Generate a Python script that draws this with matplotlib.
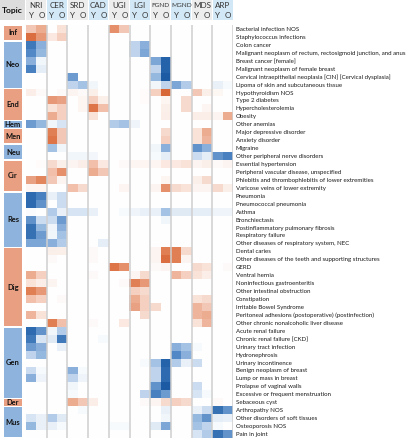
import numpy as np
import matplotlib
matplotlib.use("Agg")
import matplotlib.pyplot as plt
from matplotlib.colors import LinearSegmentedColormap
from matplotlib import font_manager

# pick a narrow font if we have one
installed = {f.name for f in font_manager.fontManager.ttflist}
if 'Liberation Sans Narrow' in installed:
    FONT, SCALE = 'Liberation Sans Narrow', 1.0
else:
    FONT, SCALE = 'Lato', 0.85
plt.rcParams['font.family'] = [FONT, 'DejaVu Sans']

topics = ['NRI', 'CER', 'SRD', 'CAD', 'UGI', 'LGI', 'FGND', 'MGND', 'MDS', 'ARP']
ages = ['Y', 'O']

groups = ['Inf', 'Neo', 'End', 'Hem', 'Men', 'Neu', 'Cir', 'Res', 'Dig', 'Gen', 'Der', 'Mus']
group_sizes = [2, 6, 4, 1, 2, 2, 4, 7, 10, 9, 1, 4]
group_sign = [1, -1, 1, -1, 1, -1, 1, -1, 1, -1, 1, -1]  # 1 = red, -1 = blue

diseases = [
    'Bacterial infection NOS', 'Staphylococcus infections',
    'Colon cancer', 'Malignant neoplasm of rectum, rectosigmoid junction, and anus',
    'Breast cancer [female]', 'Malignant neoplasm of female breast',
    'Cervical intraepithelial neoplasia [CIN] [Cervical dysplasia]',
    'Lipoma of skin and subcutaneous tissue',
    'Hypothyroidism NOS', 'Type 2 diabetes', 'Hypercholesterolemia', 'Obesity',
    'Other anemias',
    'Major depressive disorder', 'Anxiety disorder',
    'Migraine', 'Other peripheral nerve disorders',
    'Essential hypertension', 'Peripheral vascular disease, unspecified',
    'Phlebitis and thrombophlebitis of lower extremities', 'Varicose veins of lower extremity',
    'Pneumonia', 'Pneumococcal pneumonia', 'Asthma', 'Bronchiectasis',
    'Postinflammatory pulmonary fibrosis', 'Respiratory failure',
    'Other diseases of respiratory system, NEC',
    'Dental caries', 'Other diseases of the teeth and supporting structures', 'GERD',
    'Ventral hernia', 'Noninfectious gastroenteritis', 'Other intestinal obstruction',
    'Constipation', 'Irritable Bowel Syndrome',
    'Peritoneal adhesions (postoperative) (postinfection)',
    'Other chronic nonalcoholic liver disease',
    'Acute renal failure', 'Chronic renal failure [CKD]', 'Urinary tract infection',
    'Hydronephrosis', 'Urinary incontinence', 'Benign neoplasm of breast',
    'Lump or mass in breast', 'Prolapse of vaginal walls',
    'Excessive or frequent menstruation',
    'Sebaceous cyst',
    'Arthropathy NOS', 'Other disorders of soft tissues', 'Osteoporosis NOS', 'Pain in joint',
]

# columns: NRI Y/O, CER Y/O, SRD Y/O, CAD Y/O, UGI Y/O, LGI Y/O, FGND Y/O, MGND Y/O, MDS Y/O, ARP Y/O
weights = [
    [.30, .45, 0, .15, 0, 0, 0, 0, .60, .30, 0, 0, 0, 0, 0, 0, 0, 0, 0, 0],
    [.80, .55, .12, .25, 0, 0, 0, 0, 0, 0, 0, 0, 0, 0, 0, 0, 0, 0, 0, 0],
    [.75, .45, 0, 0, 0, 0, 0, 0, 0, 0, .25, .45, 0, 0, 0, 0, 0, 0, 0, 0],
    [.65, .40, 0, 0, 0, 0, 0, 0, 0, 0, .25, .50, 0, 0, 0, 0, 0, 0, 0, 0],
    [.45, .05, 0, 0, 0, 0, 0, 0, 0, 0, 0, 0, .50, .90, 0, 0, 0, 0, 0, 0],
    [.70, .10, 0, 0, 0, 0, 0, 0, 0, 0, 0, 0, .25, .90, 0, 0, 0, 0, 0, 0],
    [0, 0, 0, 0, .55, 0, 0, 0, 0, 0, 0, 0, .40, .95, 0, 0, 0, 0, 0, 0],
    [0, 0, 0, 0, .25, .35, .05, 0, 0, 0, 0, 0, .05, .25, .50, .30, 0, 0, .08, .03],
    [.10, .03, 0, .03, .06, .03, .08, 0, 0, 0, 0, .02, .25, .85, 0, 0, .30, .08, .04, 0],
    [0, 0, .55, .50, 0, .05, .25, .08, 0, 0, 0, .02, 0, .05, 0, .20, 0, 0, 0, 0],
    [0, 0, .15, .25, 0, .05, .75, .35, 0, 0, 0, 0, 0, .08, 0, .20, 0, .05, 0, 0],
    [0, 0, .45, .25, 0, 0, .15, 0, 0, 0, 0, 0, 0, .10, 0, 0, .10, .10, .06, .45],
    [.55, .40, .05, .15, 0, 0, 0, 0, .30, .35, .06, 0, 0, 0, 0, 0, 0, 0, 0, 0],
    [0, 0, .70, .30, 0, 0, 0, 0, 0, 0, 0, 0, 0, .20, 0, 0, .15, .45, 0, 0],
    [0, 0, .75, .30, 0, 0, 0, 0, 0, 0, 0, 0, 0, .25, 0, 0, .15, .40, 0, 0],
    [0, 0, .35, .05, 0, 0, 0, 0, 0, 0, 0, 0, .05, .45, 0, 0, .60, .45, 0, 0],
    [0, 0, 0, 0, .05, .05, .04, 0, 0, 0, 0, 0, .03, .10, 0, 0, .20, .10, .60, .70],
    [0, .02, .20, .08, .06, .10, .35, .12, 0, .03, .05, .05, .05, .12, .12, .15, .06, .08, .03, .06],
    [0, 0, .35, .60, 0, 0, .45, .30, 0, 0, 0, 0, 0, 0, 0, 0, 0, 0, 0, 0],
    [.50, .65, .30, .06, 0, 0, 0, 0, 0, 0, 0, 0, 0, .05, 0, 0, .08, .20, 0, 0],
    [.05, .05, 0, 0, .35, .20, 0, 0, 0, .05, 0, 0, .06, .60, .20, .15, .06, .06, .20, .08],
    [.85, .70, .08, .20, 0, 0, 0, 0, 0, 0, 0, 0, 0, 0, 0, 0, 0, 0, 0, 0],
    [.85, .60, 0, .20, 0, 0, 0, 0, 0, 0, 0, 0, 0, 0, 0, 0, 0, 0, 0, 0],
    [.02, 0, .30, .08, .15, .15, .08, 0, 0, .03, .06, .08, .08, .35, .12, .12, .10, .10, .06, .06],
    [.60, .20, .20, .55, 0, 0, 0, 0, 0, 0, 0, 0, 0, .05, 0, 0, 0, 0, 0, 0],
    [.80, .40, .06, .45, 0, 0, 0, 0, 0, 0, 0, 0, 0, 0, 0, 0, 0, 0, 0, 0],
    [.80, .55, .05, .35, 0, 0, 0, 0, 0, 0, 0, 0, 0, 0, 0, 0, 0, 0, 0, 0],
    [.50, .50, .45, .30, 0, 0, 0, .10, 0, 0, 0, 0, 0, 0, 0, 0, 0, 0, 0, 0],
    [0, 0, .08, .08, 0, 0, .03, 0, 0, 0, 0, 0, .06, .70, .70, .20, 0, 0, 0, 0],
    [0, 0, .03, 0, 0, 0, .03, 0, 0, 0, 0, 0, .06, .80, .70, .06, 0, 0, 0, 0],
    [0, 0, 0, 0, 0, 0, 0, 0, .75, .60, 0, 0, .03, .06, 0, 0, .20, .15, 0, .03],
    [.45, .25, 0, 0, 0, 0, .03, 0, 0, 0, .05, .20, 0, 0, .40, .25, .15, .10, 0, 0],
    [.15, .10, .06, 0, 0, 0, 0, 0, 0, .03, .70, .55, 0, 0, 0, 0, 0, 0, 0, 0],
    [.70, .55, 0, 0, 0, 0, 0, 0, 0, 0, .25, .20, 0, 0, 0, 0, 0, 0, 0, 0],
    [.35, .25, 0, .03, 0, 0, 0, 0, 0, 0, .45, .25, 0, 0, 0, 0, .15, .20, 0, 0],
    [0, 0, 0, 0, 0, 0, 0, 0, 0, 0, .50, .25, .20, 0, 0, 0, .40, .30, 0, 0],
    [.40, .15, 0, 0, 0, 0, 0, 0, 0, 0, 0, .20, 0, 0, 0, 0, .40, .45, 0, 0],
    [0, 0, .70, .35, 0, 0, .03, 0, 0, .12, 0, 0, 0, 0, 0, 0, .15, .40, 0, 0],
    [.85, .60, .05, .30, 0, 0, 0, 0, 0, 0, 0, 0, 0, 0, 0, 0, 0, 0, 0, 0],
    [.75, .15, .12, .75, 0, 0, 0, .03, 0, 0, 0, 0, 0, 0, 0, 0, 0, 0, 0, 0],
    [.55, .45, 0, .08, 0, 0, 0, 0, 0, 0, 0, 0, 0, 0, .45, .35, .03, 0, 0, 0],
    [.25, .40, 0, 0, 0, 0, 0, 0, 0, 0, 0, 0, 0, 0, .65, .45, 0, 0, 0, 0],
    [0, 0, 0, 0, 0, 0, 0, 0, 0, 0, 0, .03, .35, .90, .30, .08, .20, 0, 0, 0],
    [.20, .03, 0, 0, .45, .03, 0, 0, 0, 0, 0, 0, .25, .85, 0, 0, 0, 0, 0, 0],
    [.45, .06, 0, 0, .25, .06, 0, 0, 0, 0, 0, 0, .25, .85, 0, 0, 0, 0, 0, 0],
    [0, 0, 0, 0, .05, 0, 0, 0, 0, 0, 0, 0, .60, .95, 0, 0, .20, 0, 0, 0],
    [0, 0, 0, 0, .03, 0, 0, 0, 0, 0, 0, .25, .70, .55, 0, 0, .15, .03, 0, 0],
    [0, 0, 0, 0, .45, .30, .10, 0, 0, 0, 0, .03, .06, .20, .25, .20, 0, 0, .03, 0],
    [0, 0, 0, 0, 0, .03, 0, 0, 0, 0, 0, 0, 0, .08, 0, 0, .08, .20, .80, .60],
    [.15, .08, .30, .12, 0, 0, 0, 0, 0, 0, 0, 0, 0, .05, 0, 0, .40, .60, .10, .08],
    [.40, .08, .08, .03, 0, 0, 0, 0, .03, .03, 0, 0, .12, .50, 0, 0, .35, .25, .03, 0],
    [0, 0, 0, 0, 0, 0, 0, 0, 0, 0, 0, 0, 0, 0, 0, 0, .15, .30, .80, .60],
]

RED_BLOCK, BLUE_BLOCK = '#E9A082', '#8EB3DC'

# signed matrix: sign follows the colour of the topic group of each row
row_sign = np.repeat(group_sign, group_sizes)
signed = np.array(weights) * row_sign[:, None]

cmap = LinearSegmentedColormap.from_list(
    'bo', ['#14549F', '#4F86C4', '#A9C6E6', '#FFFFFF', '#F2C2AE', '#E2845B', '#D0501A'])

fig = plt.figure(figsize=(4.14, 4.40), dpi=100)
W, H = 414, 440

def px_axes(x0, y0, x1, y1):
    return fig.add_axes([x0 / W, 1 - y1 / H, (x1 - x0) / W, (y1 - y0) / H])

nrow, ncol = signed.shape

# heatmap
ax = px_axes(26, 25, 233, 438)
ax.imshow(signed, cmap=cmap, vmin=-1, vmax=1, aspect='auto', interpolation='nearest')
for k in range(1, len(topics) + 1):
    ax.axvline(2 * k - 0.5, color='#CFCFCF', lw=1.1)
ax.set_xlim(-0.5, ncol - 0.5)
ax.set_ylim(nrow - 0.5, -0.5)
ax.set_xticks([])
ax.set_yticks(range(nrow))
ax.set_yticklabels(diseases, fontsize=5.2 * SCALE, color='#1A1A1A')
ax.yaxis.tick_right()
ax.tick_params(axis='y', length=0, pad=1.8)
for s in ax.spines.values():
    s.set_visible(False)

# topic column
tax = px_axes(4, 25, 22, 438)
starts = np.cumsum([0] + group_sizes[:-1])
for g, st, n, sg in zip(groups, starts, group_sizes, group_sign):
    tax.barh(st + n / 2 - 0.5, 1, height=n - 0.18, left=0,
             color=RED_BLOCK if sg > 0 else BLUE_BLOCK)
    tax.text(0.5, st + n / 2 - 0.5, g, ha='center', va='center',
             fontsize=6.4 * SCALE, fontweight='bold', color='#111111')
tax.set_xlim(0, 1)
tax.set_ylim(nrow - 0.5, -0.5)
tax.axis('off')

# header
hax = px_axes(26, 0, 233, 20)
for i, t in enumerate(topics):
    hax.bar(2 * i + 0.5, 1, width=1.92, bottom=0,
            color='#EDEDED' if i % 2 == 0 else '#D3E8F6')
    fs = 6.8 if t not in ('FGND', 'MGND') else 5.5
    hax.text(2 * i + 0.5, 0.72, t, ha='center', va='center',
             fontsize=fs * SCALE, color='#333333')
    for j, a in enumerate(ages):
        hax.text(2 * i + j, 0.24, a, ha='center', va='center',
                 fontsize=6.8 * SCALE, color='#333333')
hax.set_xlim(-0.5, ncol - 0.5)
hax.set_ylim(0, 1)
hax.axis('off')

# "Topic" corner box
cax = px_axes(0, 0, 25, 20)
cax.bar(0.5, 1, width=1, color='#DDDDDD')
cax.text(0.5, 0.5, 'Topic', ha='center', va='center',
         fontsize=7.2 * SCALE, fontweight='bold', color='#111111')
cax.set_xlim(0, 1)
cax.set_ylim(0, 1)
cax.axis('off')

fig.savefig('out.png', dpi=100)
